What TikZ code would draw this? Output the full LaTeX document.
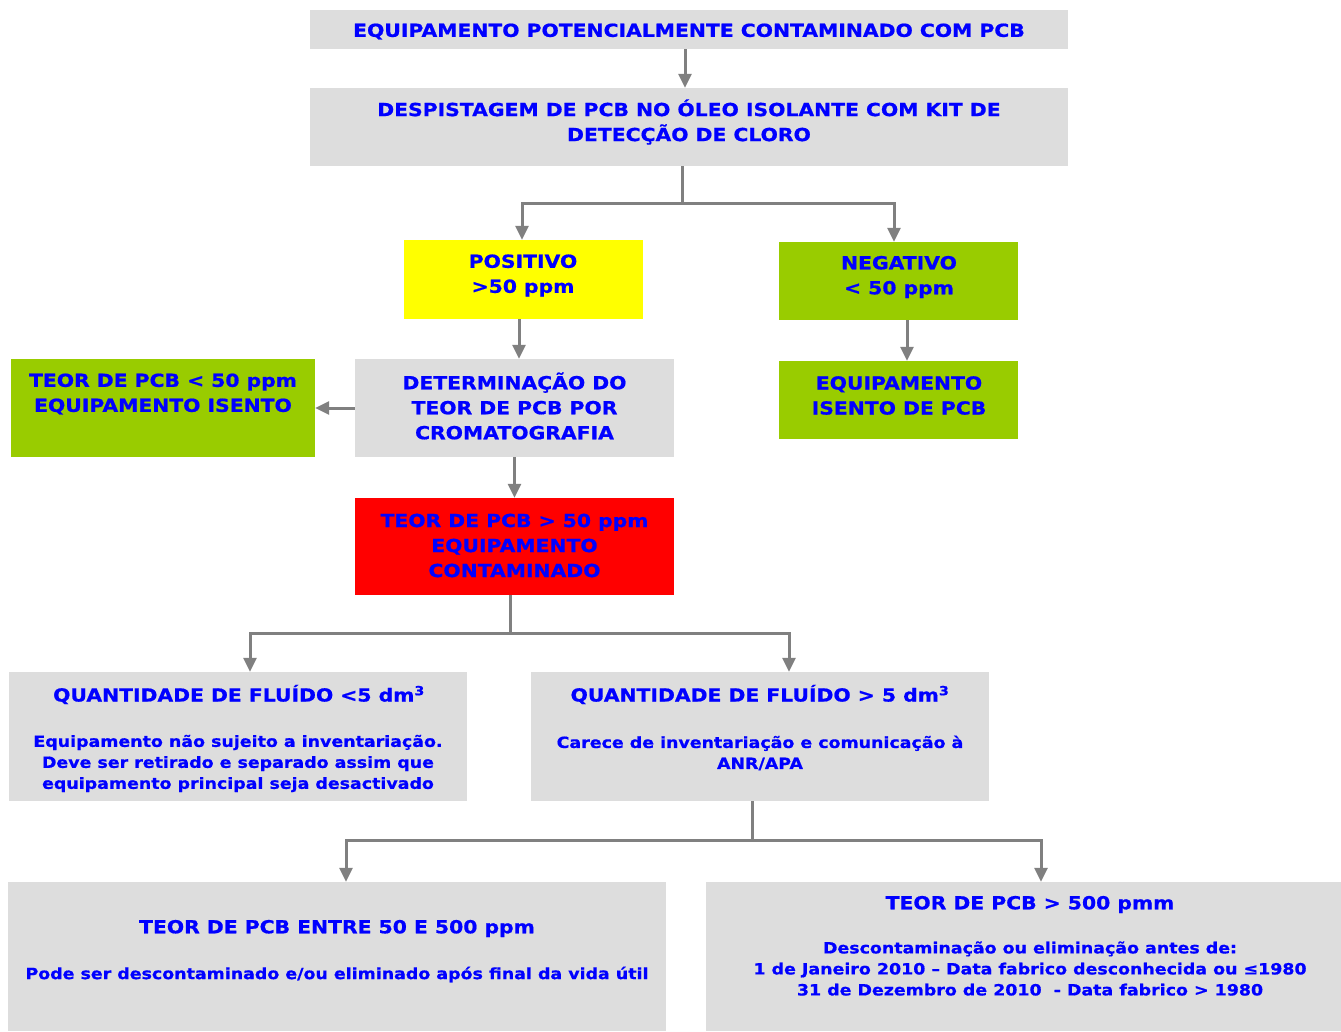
\documentclass[tikz,border=0pt]{standalone}
\usepackage{fontspec}
\setmainfont[FakeStretch=1.13, BoldFeatures={FakeBold=0.8}]{DejaVu Sans}
\usetikzlibrary{positioning,arrows.meta}
\definecolor{boxgray}{HTML}{DDDDDD}
\definecolor{txtblue}{HTML}{0000FF}
\definecolor{okgreen}{HTML}{99CC00}
\definecolor{posyellow}{HTML}{FFFF00}
\definecolor{badred}{HTML}{FF0000}
\definecolor{arrgray}{HTML}{808080}
\tikzset{
  box/.style={rectangle, inner sep=0pt, draw=none, fill=boxgray},
  txt/.style={align=center, text=txtblue, inner sep=0pt, yshift=-1.5pt,
    font=\bfseries\fontsize{18}{25}\selectfont},
  small/.style={font=\bfseries\fontsize{15.4}{21}\selectfont},
  arr/.style={draw=arrgray, line width=3pt, -{Triangle[length=14pt,width=13pt]}},
  line/.style={draw=arrgray, line width=3pt},
}
\begin{document}
\begin{tikzpicture}[x=1pt, y=-1pt]
  \useasboundingbox (0,0) rectangle (1341,1031);

  % Boxes
  \node[box, minimum width=758pt, minimum height=39pt] (top) at (689,29.5) {};
  \node[box, minimum width=758pt, minimum height=78pt] (desp) at (689,127) {};
  \node[box, fill=posyellow, minimum width=239pt, minimum height=79pt] (pos) at (523.5,279.5) {};
  \node[box, fill=okgreen, minimum width=239pt, minimum height=78pt] (neg) at (898.5,281) {};
  \node[box, fill=okgreen, minimum width=239pt, minimum height=78pt] (iso) at (898.5,400) {};
  \node[box, minimum width=319pt, minimum height=98pt] (det) at (514.5,408) {};
  \node[box, fill=okgreen, minimum width=304pt, minimum height=98pt] (lt50) at (163,408) {};
  \node[box, fill=badred, minimum width=319pt, minimum height=97pt] (cont) at (514.5,546.5) {};
  \node[box, minimum width=458pt, minimum height=129pt] (qlt) at (238,736.5) {};
  \node[box, minimum width=458pt, minimum height=129pt] (qgt) at (760,736.5) {};
  \node[box, minimum width=658pt, minimum height=149pt] (e50) at (337,956.5) {};
  \node[box, minimum width=635pt, minimum height=149pt] (g500) at (1023.5,956.5) {};

  % Texts
  \node[txt] (top-t) at (689,30) {EQUIPAMENTO POTENCIALMENTE CONTAMINADO COM PCB};
  \node[txt] (desp-t) at (689,120.5) {DESPISTAGEM DE PCB NO ÓLEO ISOLANTE COM KIT DE\\DETECÇÃO DE CLORO};
  \node[txt] (pos-t) at (523,274) {POSITIVO\\>50 ppm};
  \node[txt] (neg-t) at (899,275.5) {NEGATIVO\\< 50 ppm};
  \node[txt] (iso-t) at (899,394) {EQUIPAMENTO\\ISENTO DE PCB};
  \node[txt] (det-t) at (514.5,404.5) {DETERMINAÇÃO DO\\TEOR DE PCB POR\\CROMATOGRAFIA};
  \node[txt] (lt50-t) at (163,392.5) {TEOR DE PCB < 50 ppm\\EQUIPAMENTO ISENTO};
  \node[txt] (cont-t) at (514.5,544) {TEOR DE PCB > 50 ppm\\EQUIPAMENTO\\CONTAMINADO};
  \node[txt] (qlt-t) at (239,693) {QUANTIDADE DE FLUÍDO <5 dm\textsuperscript{3}};
  \node[txt, small] (qlt-b) at (238,762) {Equipamento não sujeito a inventariação.\\Deve ser retirado e separado assim que\\equipamento principal seja desactivado};
  \node[txt] (qgt-t) at (760,693) {QUANTIDADE DE FLUÍDO > 5 dm\textsuperscript{3}};
  \node[txt, small] (qgt-b) at (760,751.5) {Carece de inventariação e comunicação à\\ANR/APA};
  \node[txt] (e50-t) at (337,927) {TEOR DE PCB ENTRE 50 E 500 ppm};
  \node[txt, small] (e50-b) at (337,973) {Pode ser descontaminado e/ou eliminado após final da vida útil};
  \node[txt] (g500-t) at (1030,903) {TEOR DE PCB > 500 pmm};
  \node[txt, small] (g500-b) at (1030,967) {Descontaminação ou eliminação antes de:\\1 de Janeiro 2010 – Data fabrico desconhecida ou ≤1980\\31 de Dezembro de 2010\ \ - Data fabrico > 1980};

  % Connectors
  \draw[arr] ([xshift=-4pt]top.south) -- ([xshift=-4pt]desp.north);
  \coordinate (b1) at (682,203);
  \draw[line] (desp.south -| b1) -- (b1);
  \draw[arr] (b1) -| ([xshift=-1.5pt]pos.north);
  \draw[arr] (b1) -| ([xshift=-4.5pt]neg.north);
  \draw[arr] ([xshift=-4.5pt]pos.south) -- ([xshift=-4.5pt]pos.south |- det.north);
  \draw[arr] ([xshift=8.5pt]neg.south) -- ([xshift=8.5pt]iso.north);
  \draw[arr] (det.west) -- (lt50.east);
  \draw[arr] (det.south) -- (cont.north);
  \coordinate (b2) at (510,633);
  \draw[line] (cont.south -| b2) -- (b2);
  \draw[arr] (b2) -| ([xshift=12pt]qlt.north);
  \draw[arr] (b2) -| ([xshift=29pt]qgt.north);
  \coordinate (b3) at (752,840);
  \draw[line] (qgt.south -| b3) -- (b3);
  \draw[arr] (b3) -| ([xshift=9pt]e50.north);
  \draw[arr] (b3) -| ([xshift=17.5pt]g500.north);
\end{tikzpicture}
\end{document}
